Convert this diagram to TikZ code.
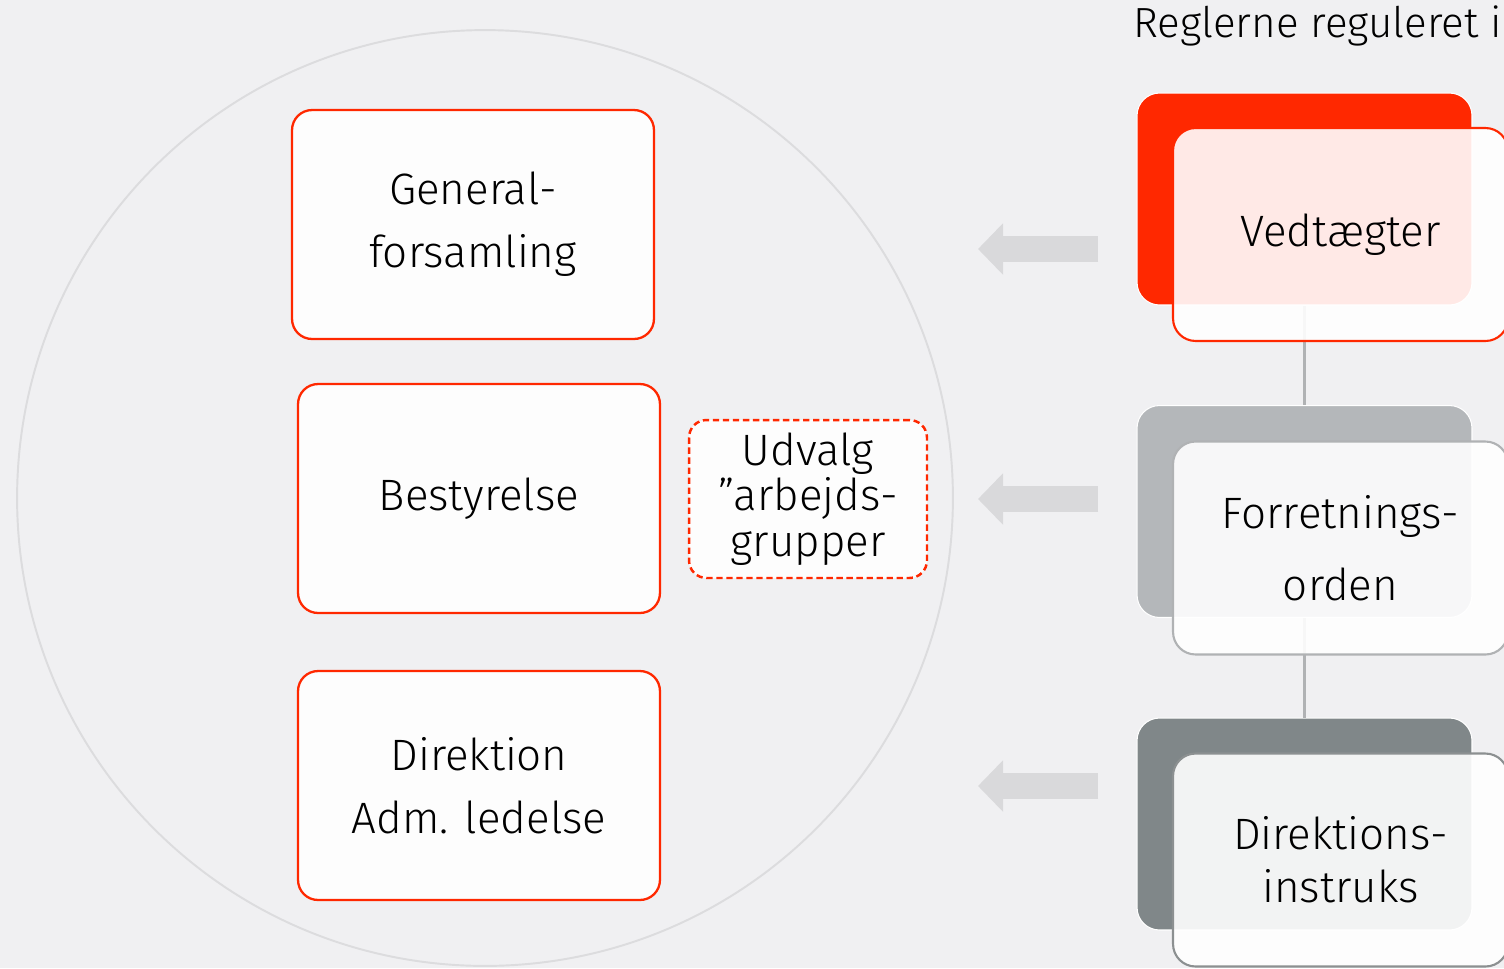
\documentclass[tikz,border=0pt]{standalone}
\usepackage{fontspec}
\setmainfont{Fira Sans}[UprightFont={* Light}]
\usetikzlibrary{
    arrows.meta,
    positioning
}
\definecolor{pagegrey}{RGB}{240, 240, 242}
\definecolor{ringgrey}{RGB}{220, 220, 222}
\definecolor{govred}{RGB}{255, 40, 0}
\definecolor{boxwhite}{RGB}{253, 253, 253}
\definecolor{arrowgrey}{RGB}{217, 217, 219}
\definecolor{linkgrey}{RGB}{176, 178, 180}
\definecolor{lightslate}{RGB}{180, 183, 186}
\definecolor{darkslate}{RGB}{128, 135, 137}
\definecolor{lightedge}{RGB}{176, 178, 180}
\definecolor{darkedge}{RGB}{140, 144, 145}

\begin{document}
\begin{tikzpicture}[
        x=0.02cm, y=-0.02cm,
        orgbox/.style={rectangle, draw=govred, line width=1.3pt, rounded corners=0.4cm, fill=boxwhite, minimum width=7.24cm, minimum height=4.58cm, align=center, font=\fontsize{25}{36}\selectfont},
        groupbox/.style={rectangle, draw=govred, line width=1.4pt, dash pattern=on 3.6pt off 2.1pt, rounded corners=0.35cm, fill=boxwhite, minimum width=4.76cm, minimum height=3.16cm, align=center, font=\fontsize{25}{26}\selectfont},
        backbox/.style={rectangle, draw=white, line width=0.6pt, rounded corners=0.45cm, minimum width=6.7cm, minimum height=4.24cm},
        frontbox/.style={rectangle, line width=1.2pt, rounded corners=0.45cm, fill=white, fill opacity=0.9, text opacity=1, minimum width=6.7cm, minimum height=4.26cm, align=center, font=\fontsize{25}{30}\selectfont},
        bigarrow/.style={line width=0.52cm, draw=arrowgrey, -{Triangle[length=0.5cm, width=1cm]}},
        link/.style={draw=linkgrey, line width=1.4pt}
    ]
        % Canvas
        \fill[pagegrey] (0,0) rectangle (1504,968);
        \clip (0,0) rectangle (1504,968);
        \useasboundingbox (0,0) rectangle (1504,968);

        % Organisation circle
        \node[circle, draw=ringgrey, line width=1.1pt, minimum size=18.72cm, inner sep=0pt] (ring) at (485,498) {};

        % Left column: bodies
        \node[orgbox] (genfors) at (473,224.5) {General-\\forsamling};
        \node[orgbox] (bestyr) at (479,498.5) {Bestyrelse};
        \node[orgbox] (direk) at (479,785.5) {Direktion\\Adm. ledelse};
        \node[groupbox] (udvalg) at (808,499) {Udvalg\\”arbejds-\\grupper};

        % Heading
        \node[anchor=west, inner sep=0pt, font=\fontsize{24}{26}\selectfont] (regler) at (1133,26) {Reglerne reguleret i};

        % Arrows
        \coordinate (arr1s) at (1098,249);
        \coordinate (arr1e) at (978,249);
        \coordinate (arr2s) at (1098,499);
        \coordinate (arr2e) at (978,499);
        \coordinate (arr3s) at (1098,786);
        \coordinate (arr3e) at (978,786);
        \draw[bigarrow] (arr1s) -- (arr1e);
        \draw[bigarrow] (arr2s) -- (arr2e);
        \draw[bigarrow] (arr3s) -- (arr3e);

        % Right column: back cards
        \node[backbox, fill=govred] (vedback) at (1304.5,199) {};
        \node[backbox, fill=lightslate] (forback) at (1304.5,511.5) {};
        \node[backbox, fill=darkslate] (dirback) at (1304.5,824) {};

        % Links
        \draw[link] (vedback) -- (forback);
        \draw[link] (forback) -- (dirback);

        % Right column: front cards
        \node[frontbox, draw=govred] (vedfront) at (1340.5,234.5) {Vedtægter};
        \node[frontbox, draw=lightedge, font=\fontsize{25}{41}\selectfont] (forfront) at (1340.5,548) {Forretnings-\\orden};
        \node[frontbox, draw=darkedge] (dirfront) at (1340.5,860) {Direktions-\\instruks};
    \end{tikzpicture}
\end{document}
